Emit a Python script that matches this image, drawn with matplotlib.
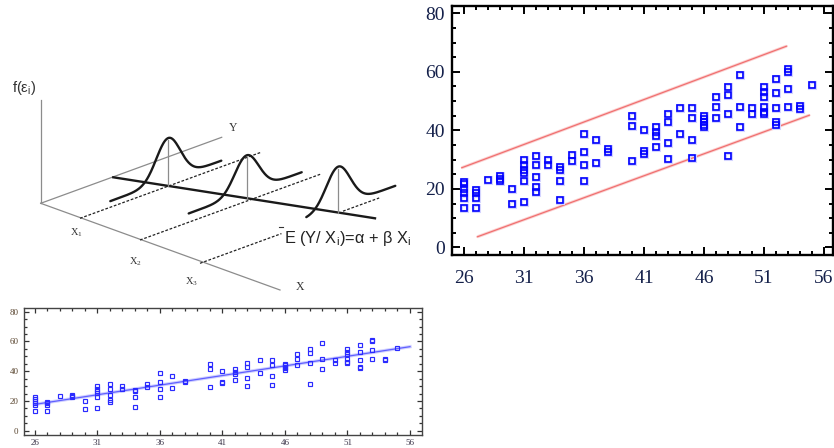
import numpy as np
import matplotlib
matplotlib.use("Agg")
import matplotlib.pyplot as plt

# ---------------- data ----------------
age = ([26]*6 + [27]*4 + [28] + [29]*3 + [30]*2 + [31]*6 + [32]*5 + [33]*2 + [34]*4 +
       [35]*2 + [36]*4 + [37]*2 + [38]*2 + [40]*3 + [41]*3 + [42]*4 + [43]*4 + [44]*2 +
       [45]*4 + [46]*5 + [47]*3 + [48]*4 + [49]*3 + [50]*2 + [51]*6 + [52]*5 + [53]*4 +
       [54]*2 + [55])
value = [13.5, 17, 18.5, 20, 21.5, 22.5,
         13.5, 17, 18.5, 19.5,
         23,
         22.8, 23.5, 24.3,
         14.7, 20,
         15.4, 22.7, 25.3, 26.4, 28.1, 29.8,
         19, 20.7, 24.1, 28, 31.4,
         28.1, 29.8,
         16.1, 22.7, 26.5, 27.5,
         29.5, 31.6,
         22.7, 28, 32.7, 38.7,
         28.7, 36.7,
         32.5, 33.5,
         29.4, 41.5, 44.9,
         32, 33, 40.1,
         34.2, 38.1, 39.5, 41.2,
         30.1, 35.6, 42.8, 45.6,
         38.7, 47.5,
         30.7, 36.7, 44.1, 47.5,
         41, 42, 43, 44, 45,
         44.1, 48.1, 51.5,
         31.3, 45.6, 52.1, 54.7,
         41.2, 48.1, 58.9,
         45.5, 47.5,
         45.5, 46.4, 48.1, 51.5, 53.2, 54.7,
         42, 43, 47.5, 52.8, 57.5,
         48.1, 54.1, 60, 61,
         47.3, 48.3,
         55.5]

upper_band_x = [25.8, 52.9]
upper_band_y = [27.2, 68.8]
lower_band_x = [27.1, 54.8]
lower_band_y = [3.6, 45.2]
fit_x = [26, 56]
fit_y = [17.7, 56.5]

xticks = [26, 31, 36, 41, 46, 51, 56]
yticks = [0, 20, 40, 60, 80]

# diagram (illustration) geometry in pixel space
origin = (40.7, 203.3)
f_axis_top = (40.7, 100)
y_axis_end = (221.7, 137.3)
x_axis_end = (280, 290)
x_marks = [(80, 218.3), (140, 240), (200, 263.3)]
x_mark_labels = ["X$_\\mathregular{1}$", "X$_\\mathregular{2}$", "X$_\\mathregular{3}$"]
x_label_pos = [(76, 233), (135, 261.5), (191.5, 281.5)]
dotted_spans = [[(0.0, 1.0)], [(0.0, 1.0)], [(0.0, 0.45), (0.79, 0.99)]]
mean_line = [(113.3, 177.3), (375, 218.3)]
curve_feet = [(168.3, 186.0), (246.7, 198.3), (338.3, 212.6)]
curve_heights = [48, 43, 46]
curve_extent = [(-58, 53), (-58, 55), (-32, 57)]

# ---------------- figure ----------------
W, H = 834, 448
fig = plt.figure(figsize=(W/100, H/100), dpi=100)
fig.patch.set_facecolor("white")

# ---- diagram ----
axd = fig.add_axes([0, 0, 1, 1])
axd.set_xlim(0, W)
axd.set_ylim(H, 0)
axd.axis("off")

gray = "#8c8c8c"
axd.plot([origin[0], f_axis_top[0]], [origin[1], f_axis_top[1]], color=gray, lw=0.9)
axd.plot([origin[0], y_axis_end[0]], [origin[1], y_axis_end[1]], color=gray, lw=0.9)
axd.plot([origin[0], x_axis_end[0]], [origin[1], x_axis_end[1]], color=gray, lw=0.9)

dvec = np.array(y_axis_end) - np.array(origin)
for (mx, my), spans in zip(x_marks, dotted_spans):
    for s0, s1 in spans:
        axd.plot([mx + dvec[0]*s0, mx + dvec[0]*s1], [my + dvec[1]*s0, my + dvec[1]*s1],
                 color="#222222", lw=0.9, dashes=(2.2, 1.4))

axd.plot([mean_line[0][0], mean_line[1][0]], [mean_line[0][1], mean_line[1][1]],
         color="#1a1a1a", lw=1.7)

slope_b = dvec[1] / dvec[0]
sigma, tail = 12.0, 6.0
for (fx, fy), h, (u0, u1) in zip(curve_feet, curve_heights, curve_extent):
    u = np.linspace(u0, u1, 200)
    yy = fy + slope_b*u - (tail + (h - tail)*np.exp(-u**2/(2*sigma**2)))
    axd.plot(fx + u, yy, color="#1a1a1a", lw=1.7, solid_capstyle="round")
    axd.plot([fx, fx], [fy - h + 2, fy], color=gray, lw=0.9)

serif = "Liberation Serif"
sans = "Liberation Sans"
axd.text(12, 88, "f(ε$_\\mathregular{i}$)", fontsize=10.5, family=sans, color="#333333",
         va="center", ha="left")
axd.text(233, 128, "Y", fontsize=8.5, family=serif, color="#333333", va="center", ha="center")
axd.text(300, 287, "X", fontsize=8.5, family=serif, color="#333333", va="center", ha="center")
for lbl, (lx, ly) in zip(x_mark_labels, x_label_pos):
    axd.text(lx, ly, lbl, fontsize=7.5, family=serif, color="#333333", va="center", ha="center")
axd.plot([279, 283], [227.5, 227.5], color="#333333", lw=0.8)
axd.text(284, 239, "E (Y/ X$_\\mathregular{i}$)=α + β X$_\\mathregular{i}$", fontsize=11.8,
         family=sans, color="#222222", va="center", ha="left")

# ---- right scatter with bands ----
axr = fig.add_axes([452/W, 1 - 255/H, (833-452)/W, (255-6)/H])
axr.set_xlim(25.2, 56.75)
axr.set_ylim(-2.6, 82.5)
for bx, by in ((upper_band_x, upper_band_y), (lower_band_x, lower_band_y)):
    axr.plot(bx, by, color="#fbd2d2", lw=2.2, solid_capstyle="butt")
    axr.plot(bx, by, color="#f07070", lw=0.9)
axr.plot(age, value, ls="none", marker="s", ms=5.0, mfc="none", mec="#d4d4ff", mew=2.2)
axr.plot(age, value, ls="none", marker="s", ms=4.3, mfc="none", mec="#0000ff", mew=1.2)
axr.set_xticks(xticks)
axr.set_yticks(yticks)
axr.set_xticks(np.arange(25, 57, 1), minor=True)
axr.set_yticks(np.arange(0, 81, 5), minor=True)
axr.tick_params(which="both", direction="in", top=True, right=True, width=1.4, color="black")
axr.tick_params(which="major", length=5.6)
axr.tick_params(which="minor", length=3.2)
axr.tick_params(axis="x", pad=11, labelsize=14, labelcolor="#14204a")
axr.tick_params(axis="y", pad=5, labelsize=14, labelcolor="#14204a")
for lab in axr.get_xticklabels() + axr.get_yticklabels():
    lab.set_family(serif)
for sp in axr.spines.values():
    sp.set_linewidth(1.7)
    sp.set_color("black")

# ---- bottom scatter with fit ----
axb = fig.add_axes([24/W, 1 - 435/H, (422-24)/W, (435-308)/H])
axb.set_xlim(25.12, 56.96)
axb.set_ylim(-2.9, 82.5)
axb.plot(fit_x, fit_y, color="#d0d0ff", lw=2.4)
axb.plot(fit_x, fit_y, color="#6060ff", lw=0.9)
axb.plot(age, value, ls="none", marker="s", ms=3.0, mfc="none", mec="#2a2aff", mew=0.85)
axb.set_xticks(xticks)
axb.set_yticks(yticks)
axb.set_xticks(np.arange(26, 57, 1), minor=True)
axb.set_yticks(np.arange(0, 81, 5), minor=True)
axb.tick_params(which="both", direction="in", top=True, right=True, width=0.9, color="#333333")
axb.tick_params(which="major", length=3.5)
axb.tick_params(which="minor", length=2.2)
axb.tick_params(axis="x", pad=3, labelsize=6.5, labelcolor="#3a3448")
axb.tick_params(axis="y", pad=4, labelsize=6.5, labelcolor="#5a4630")
for lab in axb.get_xticklabels() + axb.get_yticklabels():
    lab.set_family(serif)
for sp in axb.spines.values():
    sp.set_linewidth(1.0)
    sp.set_color("#444444")

fig.savefig("out.png", dpi=100, facecolor="white")
